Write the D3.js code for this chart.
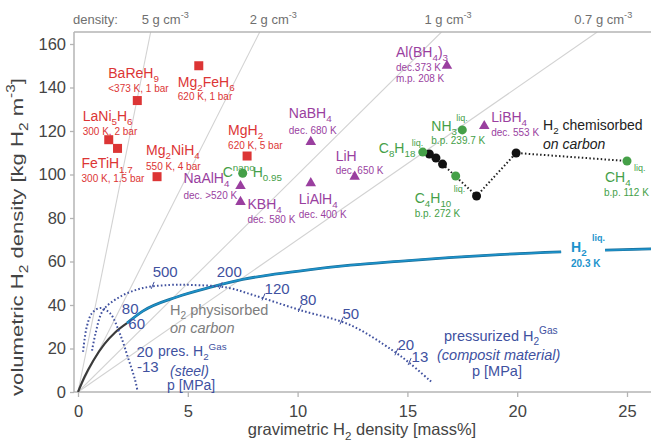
<!DOCTYPE html>
<html><head><meta charset="utf-8">
<script src="https://cdn.jsdelivr.net/npm/d3@7"></script>
<style>
body{margin:0;background:#fff}
svg{display:block;font-family:"Liberation Sans",Arial,Helvetica,sans-serif}
</style></head><body>
<svg id="c" width="651" height="445"></svg>
<script>
// ---------------- data ----------------
const xTicks = [0, 5, 10, 15, 20, 25];
const yTicks = [0, 20, 40, 60, 80, 100, 120, 140, 160];
const densities = [5, 2, 1, 0.7];                 // g cm^-3
const densityLabels = ["5 g cm", "2 g cm", "1 g cm", "0.7 g cm"];

const metalHydrides = [
  {name: "BaReH_{9}",     cond: ["<373 K, 1 bar"],  grav: 2.7, vol: 134},
  {name: "Mg_{2}FeH_{6}", cond: ["620 K, 1 bar"],   grav: 5.5, vol: 150},
  {name: "LaNi_{5}H_{6}", cond: ["300 K, 2 bar"],   grav: 1.4, vol: 116},
  {name: "FeTiH_{1.7}",   cond: ["300 K, 1.5 bar"], grav: 1.8, vol: 112},
  {name: "Mg_{2}NiH_{4}", cond: ["550 K, 4 bar"],   grav: 3.6, vol: 99},
  {name: "MgH_{2}",       cond: ["620 K, 5 bar"],   grav: 7.7, vol: 108.5}
];
const complexHydrides = [
  {name: "NaAlH_{4}",      cond: ["dec. >520 K"], grav: 7.4,  vol: 94.7},
  {name: "KBH_{4}",        cond: ["dec. 580 K"],  grav: 7.4,  vol: 87.4},
  {name: "NaBH_{4}",       cond: ["dec. 680 K"],  grav: 10.6, vol: 115},
  {name: "LiAlH_{4}",      cond: ["dec. 400 K"],  grav: 10.6, vol: 96},
  {name: "LiH",            cond: ["dec. 650 K"],  grav: 12.6, vol: 99},
  {name: "Al(BH_{4})_{3}", cond: ["dec.373 K", "m.p. 208 K"], grav: 16.8, vol: 150},
  {name: "LiBH_{4}",       cond: ["dec. 553 K"],  grav: 18.5, vol: 122.3}
];
const liquids = [
  {name: "C^{nano}H_{0.95}", cond: [],               grav: 7.5,  vol: 100.6},
  {name: "C_{8}H_{18}",      cond: [],               grav: 15.7, vol: 110.3},
  {name: "NH_{3}",           cond: ["b.p. 239.7 K"], grav: 17.5, vol: 120.5},
  {name: "C_{4}H_{10}",      cond: ["b.p. 272 K"],   grav: 17.2, vol: 99.3},
  {name: "CH_{4}",           cond: ["b.p. 112 K"],   grav: 25.0, vol: 106.2}
];
const chemisorbed = [[16.0, 109.4], [16.3, 107.6], [16.6, 104.8], [18.15, 90.1], [19.95, 109.9]];
const chemisorbedEnd = [25.0, 106.2];

const physisorbedCurve = [[0, 0], [0.3, 7], [0.7, 14.5], [1.2, 22], [1.7, 27.5], [2.23, 31.7]];
const h2LiquidCurveA = [[2.23, 31.7], [2.95, 37.2], [4.5, 43.7], [6.0, 48.1], [7.5, 51.8], [9.05, 54.3],
                        [10.5, 56.2], [12.4, 58.3], [14.6, 60.1], [16.9, 61.8], [19.2, 63.2], [22.0, 64.4]];
const h2LiquidCurveB = [[24.0, 65.2], [26.1, 65.8]];

const compositeCurve = [[0.64, 19], [0.8, 27], [1.14, 37.5], [1.9, 43.7], [2.95, 47.8], [4.18, 49.2],
                        [5.2, 49.2], [6.8, 48.0], [8.0, 44.5], [10.1, 37.7], [12.4, 30.8], [14.3, 19.3],
                        [15.1, 13.3], [16.1, 4.6]];
const compositeTicks = [{p: "500", g: 3.4}, {p: "200", g: 6.5}, {p: "120", g: 8.45}, {p: "80", g: 10.1},
                        {p: "50", g: 12.0}, {p: "20", g: 14.5}, {p: "13", g: 15.1}];
const steelCurve = [[0.23, 18.5], [0.4, 30], [0.64, 36.3], [1.0, 38.6], [1.45, 36.3], [1.9, 27],
                    [2.27, 16], [2.6, 5.5], [2.7, 1]];
const steelTicks = [{p: "80", g: 1.45}, {p: "60", g: 1.7}, {p: "20", g: 2.3}, {p: "-13", g: 2.55}];

// ---------------- layout ----------------
const metalOff = {
  "BaReH_{9}": [-29, -23, -9], "Mg_{2}FeH_{6}": [-21, 21, 34], "LaNi_{5}H_{6}": [-26, -19, -5],
  "FeTiH_{1.7}": [-36, 20, 34], "Mg_{2}NiH_{4}": [-11, -22, -7], "MgH_{2}": [-19, -21, -7]
};
const complexOff = {
  "NaAlH_{4}": [-57, -3, 13], "KBH_{4}": [7, 7, 21], "NaBH_{4}": [-22, -24, -8], "LiAlH_{4}": [-12, 21, 35],
  "LiH": [-19, -16, -3], "Al(BH_{4})_{3}": [-51, -9, 5, 16], "LiBH_{4}": [7, -4, 10]
};
const liquidOff = {
  "C_{8}H_{18}": {name: [-44, 1], liq: [-11, -6]},
  "NH_{3}": {name: [-31, 1], liq: [-6, -9], cond: [-31, 14]},
  "C_{4}H_{10}": {name: [-41, 27], liq: [-2, 16], cond: [-41, 41]},
  "CH_{4}": {name: [-22, 21], liq: [7, 10], cond: [-23, 35]}
};
const compOff = {"500": [0, -10], "200": [-4, -10], "120": [1, -4], "80": [0, -5], "50": [1, -3], "20": [1, -3], "13": [2, -1]};
const steelOff = {"80": [12, 1], "60": [13, 5], "20": [8, -2], "-13": [3, -5]};

const RED = "#dc3535", PURPLE = "#9a3f9f", GREEN = "#45a048", NAVY = "#40519f", TEAL = "#1d93cc";
const svg = d3.select("#c");
const x = d3.scaleLinear().domain([0, 25]).range([78, 627]);
const y = d3.scaleLinear().domain([0, 160]).range([392, 44]);
const L = 74, R = 651, T = 32, B = 392;
const gMax = x.invert(R), vMax = y.invert(T);

function rich(sel, str, size) {
  const parts = str.split(/(_\{[^}]*\}|\^\{[^}]*\})/).filter(s => s.length);
  let state = 0;
  parts.forEach(p => {
    let target = 0, txt = p, fs = size;
    if (p.startsWith("_{")) { target = size * 0.3; txt = p.slice(2, -1); fs = size * 0.7; }
    else if (p.startsWith("^{")) { target = -size * 0.45; txt = p.slice(2, -1); fs = size * 0.7; }
    sel.append("tspan").attr("dy", target - state).attr("font-size", fs).text(txt);
    state = target;
  });
  return sel;
}
function label(px, py, str, size, color, opts = {}) {
  const t = svg.append("text").attr("x", px).attr("y", py).attr("fill", color).attr("font-size", size);
  if (opts.italic) t.attr("font-style", "italic");
  if (opts.bold) t.attr("font-weight", "bold");
  if (opts.anchor) t.attr("text-anchor", opts.anchor);
  return rich(t, str, size);
}
function interp(curve, g) {
  for (let i = 0; i < curve.length - 1; i++) {
    const [a, va] = curve[i], [b, vb] = curve[i + 1];
    if (g >= a && g <= b) return va + (vb - va) * (g - a) / (b - a);
  }
  return curve[curve.length - 1][1];
}

// clip
svg.append("clipPath").attr("id", "plot").append("rect").attr("x", L).attr("y", T).attr("width", R - L).attr("height", B - T);

// density lines
const dl = svg.append("g").attr("clip-path", "url(#plot)");
densities.forEach(rho => {
  const gEnd = Math.min(vMax / (10 * rho), gMax);
  dl.append("line").attr("x1", x(0)).attr("y1", y(0)).attr("x2", x(gEnd)).attr("y2", y(10 * rho * gEnd))
    .attr("stroke", "#d2d2d2").attr("stroke-width", 1.1);
});
// top labels
label(73, 24, "density:", 13, "#6f6f6f");
const topX = densities.map(rho => x(vMax / (10 * rho)));
const topDx = [-9, -10, -17, -23];
densities.forEach((rho, i) => label(topX[i] + topDx[i], 24, densityLabels[i] + "^{-3}", 13, "#6f6f6f"));

// frame + axes
const frame = svg.append("g").attr("stroke", "#b4b4b4").attr("stroke-width", 1.5);
frame.append("line").attr("x1", L).attr("x2", R).attr("y1", T).attr("y2", T);
frame.append("line").attr("x1", L).attr("x2", L).attr("y1", T).attr("y2", B);
frame.append("line").attr("x1", L).attr("x2", R).attr("y1", B).attr("y2", B);

const xa = svg.append("g").attr("transform", `translate(0,${B})`)
  .call(d3.axisBottom(x).tickValues(xTicks).tickSize(5).tickPadding(8).tickSizeOuter(0));
const ya = svg.append("g").attr("transform", `translate(${L},0)`)
  .call(d3.axisLeft(y).tickValues(yTicks).tickSize(4).tickPadding(4).tickSizeOuter(0));
[xa, ya].forEach(a => {
  a.select(".domain").remove();
  a.selectAll("line").attr("stroke", "#b4b4b4").attr("stroke-width", 1.3);
  a.selectAll("text").attr("fill", "#444").attr("font-size", 16.5).attr("font-family", "Liberation Sans, Arial, sans-serif");
});

// axis titles
label(362, 435, "gravimetric H_{2} density [mass%]", 16.5, "#444", {anchor: "middle"});
const yl = svg.append("text").attr("fill", "#444").attr("font-size", 17).attr("text-anchor", "middle");
rich(yl, "volumetric H_{2} density [kg H_{2} m^{-3}]", 17);
const ylen = yl.node().getComputedTextLength();
yl.attr("transform", `translate(23,237) rotate(-90) scale(${318 / ylen},1)`);

// curves
const line = d3.line().x(d => x(d[0])).y(d => y(d[1])).curve(d3.curveMonotoneX);
const cl = svg.append("g").attr("clip-path", "url(#plot)");
cl.append("path").attr("d", line(physisorbedCurve)).attr("fill", "none").attr("stroke", "#3a3a3a").attr("stroke-width", 2.2);
[h2LiquidCurveA, h2LiquidCurveB].forEach(c => {
  cl.append("path").attr("d", line(c)).attr("fill", "none").attr("stroke", "#1a6f99").attr("stroke-width", 2.8);
  cl.append("path").attr("d", line(c)).attr("fill", "none").attr("stroke", TEAL).attr("stroke-width", 1.5);
});
const lineC = d3.line().x(d => x(d[0])).y(d => y(d[1])).curve(d3.curveCatmullRom);
cl.append("path").attr("d", lineC(compositeCurve)).attr("fill", "none").attr("stroke", NAVY)
  .attr("stroke-width", 2).attr("stroke-dasharray", "1.6,2.2");
cl.append("path").attr("d", lineC(steelCurve)).attr("fill", "none").attr("stroke", NAVY)
  .attr("stroke-width", 2).attr("stroke-dasharray", "1.6,2.2");

compositeTicks.forEach(t => {
  const px = x(t.g), py = y(interp(compositeCurve, t.g));
  svg.append("line").attr("x1", px - 1.5).attr("y1", py + 2).attr("x2", px + 1.5).attr("y2", py - 5)
    .attr("stroke", NAVY).attr("stroke-width", 1);
  const o = compOff[t.p];
  label(px + o[0], py + o[1], t.p, 15, NAVY);
});
steelTicks.forEach(t => {
  const px = x(t.g), py = y(interp(steelCurve, t.g));
  const o = steelOff[t.p];
  label(px + o[0], py + o[1], t.p, 15, NAVY);
});

// chemisorbed dotted line + dots
svg.append("path").attr("d", d3.line().x(d => x(d[0])).y(d => y(d[1]))(chemisorbed.slice(2).concat([chemisorbedEnd])))
  .attr("fill", "none").attr("stroke", "#222").attr("stroke-width", 2).attr("stroke-dasharray", "1.5,2.3");
svg.selectAll(".chem").data(chemisorbed).join("circle").attr("cx", d => x(d[0])).attr("cy", d => y(d[1]))
  .attr("r", 4.5).attr("fill", "#111");

// metal hydrides
metalHydrides.forEach(d => {
  const px = x(d.grav), py = y(d.vol);
  svg.append("rect").attr("x", px - 4.5).attr("y", py - 4.5).attr("width", 9).attr("height", 9).attr("fill", RED);
  const o = metalOff[d.name];
  label(px + o[0], py + o[1], d.name, 14, RED);
  d.cond.forEach((c, i) => label(px + o[0], py + o[2 + i], c, 10, RED));
});
// complex hydrides
const tri = d3.symbol().type(d3.symbolTriangle).size(48);
complexHydrides.forEach(d => {
  const px = x(d.grav), py = y(d.vol);
  svg.append("path").attr("d", tri()).attr("transform", `translate(${px},${py})`).attr("fill", PURPLE);
  const o = complexOff[d.name];
  label(px + o[0], py + o[1], d.name, 14, PURPLE);
  d.cond.forEach((c, i) => label(px + o[0], py + o[2 + i], c, 10, PURPLE));
});
// liquids
liquids.forEach(d => {
  const px = x(d.grav), py = y(d.vol);
  svg.append("circle").attr("cx", px).attr("cy", py).attr("r", 4.5).attr("fill", GREEN);
  if (d.name.startsWith("C^{nano}")) {
    label(px - 20, py + 4, "C^{nano}", 14, GREEN);
    label(px + 10, py + 4, "H_{0.95}", 14, GREEN);
    return;
  }
  const o = liquidOff[d.name];
  label(px + o.name[0], py + o.name[1], d.name, 14, GREEN);
  label(px + o.liq[0], py + o.liq[1], "liq.", 9, GREEN);
  if (o.cond) d.cond.forEach(c => label(px + o.cond[0], py + o.cond[1], c, 10, GREEN));
});

// curve annotations
label(543, 130, "H_{2} chemisorbed", 14, "#222");
label(543, 149, "on carbon", 14, "#222", {italic: true});
label(170, 315, "H_{2} physisorbed", 14.5, "#7d7d7d");
label(170, 333, "on carbon", 14.5, "#7d7d7d", {italic: true});
label(571, 252, "H_{2}", 14, TEAL, {bold: true});
label(592, 241, "liq.", 9, TEAL, {bold: true});
label(571, 267, "20.3 K", 10, TEAL, {bold: true});
label(158, 356, "pres. H_{2}^{Gas}", 14, NAVY);
label(170, 376, "(steel)", 14, NAVY, {italic: true});
label(167, 390, "p [MPa]", 14, NAVY);
label(444, 341, "pressurized H_{2}^{Gas}", 14.5, NAVY);
label(437, 360, "(composit material)", 14.5, NAVY, {italic: true});
label(472, 376, "p [MPa]", 14.5, NAVY);
</script>
</body></html>
